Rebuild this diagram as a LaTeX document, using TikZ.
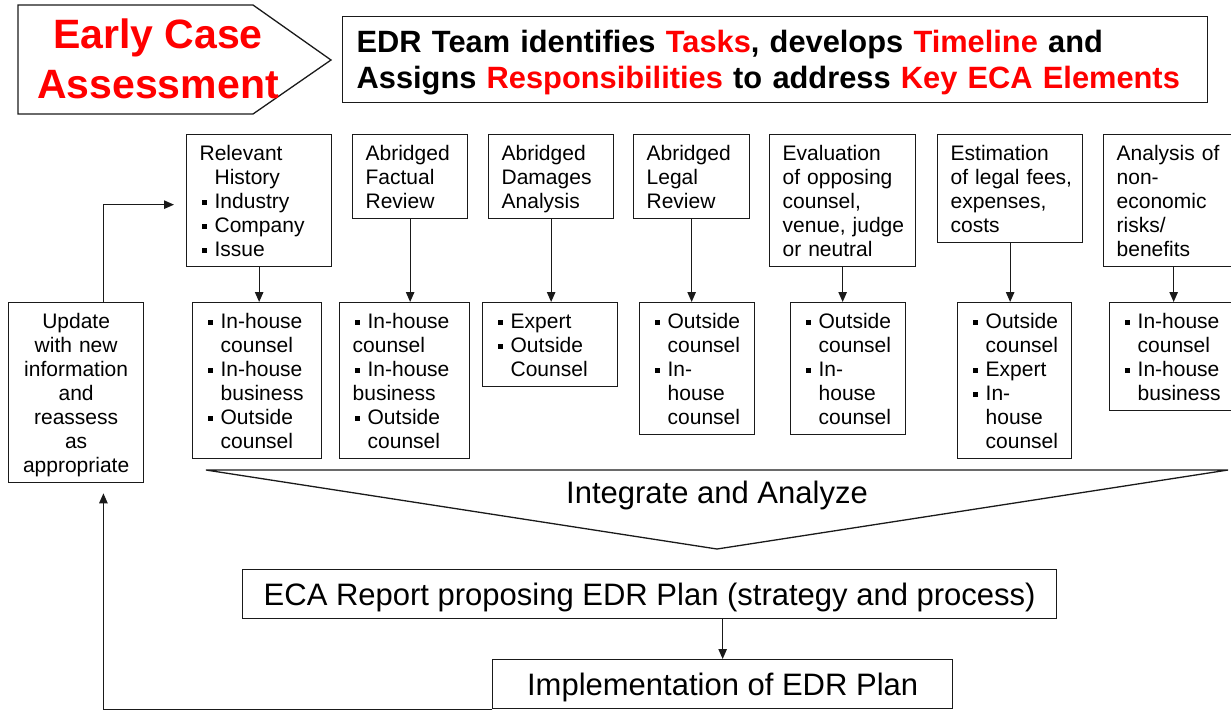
\documentclass[tikz,border=0pt]{standalone}
\usepackage{fontspec}
\setmainfont{Liberation Sans}
\usepackage{tikz}
\usetikzlibrary{arrows.meta, calc}
\definecolor{TitleRed}{HTML}{FF0000}
\definecolor{LineGray}{HTML}{1A1A1A}
\newcommand{\bul}{\makebox[7.5pt][l]{\hspace{1pt}\rule[1.7pt]{2.6pt}{2.6pt}}}
\newcommand{\ind}{\hspace*{7.5pt}}
\hyphenpenalty=10000
\exhyphenpenalty=10000
\hfuzz=5pt
\tikzset{
  % Box styles
  outline/.style={draw=LineGray, line width=0.65pt},
  titletext/.style={text=TitleRed, font=\fontsize{20.5}{25}\selectfont\bfseries, align=center},
  headbox/.style={outline, anchor=north west, inner xsep=7pt, inner ysep=0pt, text width=418.5pt, minimum height=43pt, align=left, font=\fontsize{15.4}{18}\selectfont\bfseries},
  taskbox/.style={outline, anchor=north west, inner xsep=6.5pt, inner ysep=0pt, text width=#1, align=left, font=\fontsize{10.5}{12}\selectfont, execute at begin node={\rule{0pt}{12.75pt}}, execute at end node={\rule[-5.25pt]{0pt}{5.25pt}}},
  planbox/.style={outline, anchor=north west, inner ysep=0pt, minimum height=24.5pt, text height=11.5pt, text depth=0.5pt, font=\fontsize{15.5}{18}\selectfont},
  bigtext/.style={font=\fontsize{15.5}{18}\selectfont},
  % Arrow styles
  arrow/.style={-{Triangle[length=5pt, width=4.2pt]}, line width=0.65pt, LineGray}
}
\begin{document}
\begin{tikzpicture}[x=0.5pt, y=-0.5pt]
  \useasboundingbox (0,0) rectangle (1231,709);
  \clip (0,0) rectangle (1231,709);

  % Title arrow
  \draw[outline] (18,5) -- (253,5) -- (331,60) -- (253,114) -- (18,114) -- cycle;
  \node[titletext] (eca) at (158,58.6) {Early Case\\Assessment};

  % Team header
  \node[headbox] (team) at (342,16) {\rule{0pt}{18pt}EDR Team identifies \textcolor{TitleRed}{Tasks}, develops \textcolor{TitleRed}{Timeline} and\\Assigns \textcolor{TitleRed}{Responsibilities} to address \textcolor{TitleRed}{Key~ECA~Elements}\rule[-7pt]{0pt}{7pt}};

  % Key ECA elements
  \node[taskbox=59.5pt] (history) at (186,134) {Relevant\\\ind History\\\bul Industry\\\bul Company\\\bul Issue};
  \node[taskbox=44.5pt] (factual) at (352,134) {Abridged\\Factual\\Review};
  \node[taskbox=49.5pt] (damages) at (488,134) {Abridged\\Damages\\Analysis};
  \node[taskbox=45pt] (legal) at (633,134) {Abridged\\Legal\\Review};
  \node[taskbox=60pt] (opposing) at (769,134) {Evaluation\\of~opposing\\counsel,\\venue,~judge\\or~neutral};
  \node[taskbox=59.5pt] (fees) at (937,134) {Estimation\\of~legal~fees,\\expenses,\\costs};
  \node[taskbox=57pt] (risks) at (1103,134) {Analysis~of\\non-\\economic\\risks/\\benefits};

  % Responsibilities
  \node[taskbox=59.5pt, inner xsep=4pt, align=center] (update) at (8,302) {Update\\with~new\\information\\and\\reassess\\as\\appropriate};
  \node[taskbox=51.5pt] (historyteam) at (192,302) {\bul In-house\\\ind counsel\\\bul In-house\\\ind business\\\bul Outside\\\ind counsel};
  \node[taskbox=52pt] (factualteam) at (339,302) {\bul In-house\\counsel\\\bul In-house\\business\\\bul Outside\\\ind counsel};
  \node[taskbox=54.5pt] (damagesteam) at (482,302) {\bul Expert\\\bul Outside\\\ind Counsel};
  \node[taskbox=44.5pt] (legalteam) at (639,302) {\bul Outside\\\ind counsel\\\bul In-\\\ind house\\\ind counsel};
  \node[taskbox=44.5pt] (opposingteam) at (790,302) {\bul Outside\\\ind counsel\\\bul In-\\\ind house\\\ind counsel};
  \node[taskbox=44pt] (feesteam) at (957,302) {\bul Outside\\\ind counsel\\\bul Expert\\\bul In-\\\ind house\\\ind counsel};
  \node[taskbox=54pt] (risksteam) at (1109,302) {\bul In-house\\\ind counsel\\\bul In-house\\\ind business};

  % Arrows down
  \draw[arrow] (history.south) -- (history.south |- historyteam.north);
  \draw[arrow] (factual.south) -- (factual.south |- factualteam.north);
  \draw[arrow] (damages.south) -- (damages.south |- damagesteam.north);
  \draw[arrow] (legal.south) -- (legal.south |- legalteam.north);
  \draw[arrow] (opposing.south) -- (opposing.south |- opposingteam.north);
  \draw[arrow] (fees.south) -- (fees.south |- feesteam.north);
  \draw[arrow] (risks.south) -- (risks.south |- risksteam.north);

  % Integrate and analyze
  \coordinate (funnelleft) at (206,470);
  \coordinate (funnelright) at (1228,470);
  \coordinate (funneltip) at (717,549);
  \draw[outline] (funnelleft) -- (funnelright) -- (funneltip) -- cycle;
  \node[bigtext, anchor=base] (integrate) at (717,503) {Integrate and Analyze};

  % Report and implementation
  \node[planbox, minimum width=407pt] (report) at (242,569) {ECA Report proposing EDR Plan (strategy and process)};
  \node[planbox, minimum width=230pt] (impl) at (492,659) {Implementation of EDR Plan};
  \draw[arrow] (report.south -| impl.north) -- (impl.north);

  % Feedback loop
  \draw[arrow, shorten >=5pt] (impl.south west) -| ($(update.south west)!0.7!(update.south east)$);
  \draw[arrow, shorten >=6pt] ($(update.north west)!0.7!(update.north east)$) |- ([yshift=-2pt]history.west);
\end{tikzpicture}
\end{document}
